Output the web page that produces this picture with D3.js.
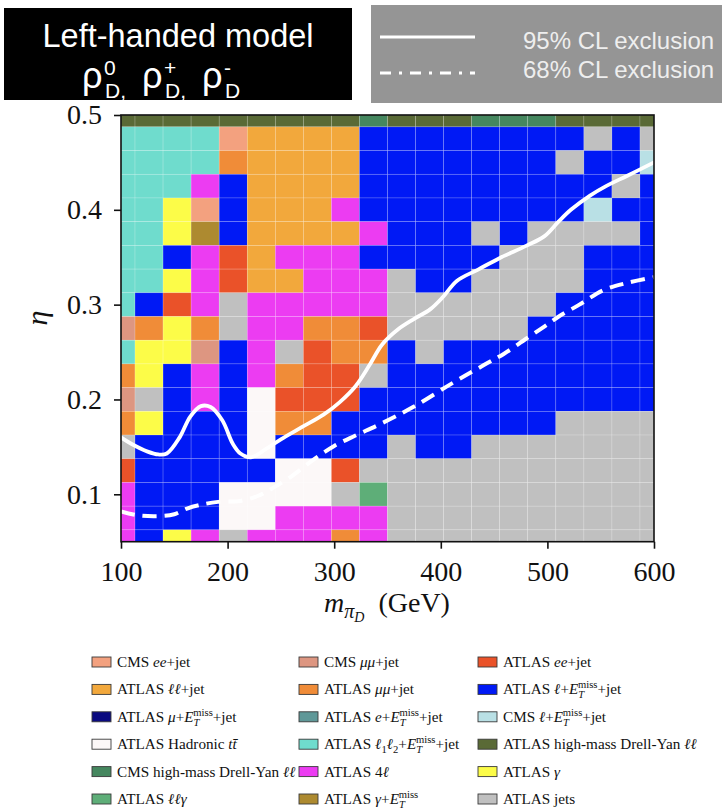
<!DOCTYPE html>
<html>
<head>
<meta charset="utf-8">
<script src="https://cdn.jsdelivr.net/npm/d3@7"></script>
<style>
  body { margin: 0; background: #fff; }
  svg { display: block; }
</style>
</head>
<body>
<svg id="chart" width="722" height="811"></svg>
<script>
// ---- data -------------------------------------------------------------
// Dark-pion mass grid points (GeV) and eta grid points
const massPoints = [100, 126.3, 152.6, 178.9, 205.3, 231.6, 257.9, 284.2, 310.5, 336.8,
                    363.2, 389.5, 415.8, 442.1, 468.4, 494.7, 521.1, 547.4, 573.7, 600];
const etaPoints = [0.5, 0.475, 0.45, 0.425, 0.4, 0.375, 0.35, 0.325, 0.3, 0.275,
                   0.25, 0.225, 0.2, 0.175, 0.15, 0.125, 0.1, 0.075, 0.05];

// Analysis codes (letter per grid point) and their legend labels.
// Markup: *x* italic, _{x} subscript, ^{x} superscript
const analysisCodes = ["a","b","c","d","e","f","g","h","i","j","k","l","m","n","o","p","q","r"];
const analysisLabels = [
  "CMS *ee*+jet",
  "CMS *μμ*+jet",
  "ATLAS *ee*+jet",
  "ATLAS *ℓℓ*+jet",
  "ATLAS *μμ*+jet",
  "ATLAS *ℓ*+*E*_{T}^{miss}+jet",
  "ATLAS *μ*+*E*_{T}^{miss}+jet",
  "ATLAS *e*+*E*_{T}^{miss}+jet",
  "CMS *ℓ*+*E*_{T}^{miss}+jet",
  "ATLAS Hadronic *tt̄*",
  "ATLAS *ℓ*_{1}*ℓ*_{2}+*E*_{T}^{miss}+jet",
  "ATLAS high-mass Drell-Yan *ℓℓ*",
  "CMS high-mass Drell-Yan *ℓℓ*",
  "ATLAS 4*ℓ*",
  "ATLAS *γ*",
  "ATLAS *ℓℓγ*",
  "ATLAS *γ*+*E*_{T}^{miss}",
  "ATLAS jets"
];

// Most sensitive analysis at each grid point; rows from eta = 0.5 down to 0.05,
// columns from m = 100 to 600 GeV
const bestAnalysis = [
  "lllllllllmlllmmmllll",
  "kkkkaddddffffffffrfr",
  "kkkkeddddfffffffrffi",
  "kkknfddddfffffffffrf",
  "kkoafdddnffffffffiff",
  "kkoqfddddnfffrfrrrrf",
  "kkfncdnnnfffffrrrfff",
  "kkoncddnnnrffrrrrfff",
  "kfcnrnnnnnrrrrrrffff",
  "beoernneecrrrrrfffff",
  "koobfnrceefrffffffff",
  "eofnfneccrffffffffff",
  "brfnfjcccfffffffffff",
  "eofffjeeffffffffrrrr",
  "rffffjffffrffrrrrrrr",
  "cfffffjjcrrrrrrrrrrr",
  "nfffjjjjrprrrrrrrrrr",
  "nfffjjnnnnrrrrrrrrrr",
  "nfonrnnnenrrrrrrrrrr"
];

// Exclusion contours (m in GeV, eta)
const cl95Mass = [100, 110, 125, 135, 143, 155, 165, 175, 184, 195, 205, 212, 222, 235, 250,
                  270, 290, 305, 320, 333, 345, 360, 375, 390, 402, 415, 435, 455, 480, 497,
                  510, 522, 540, 555, 575, 600];
const cl95Eta = [0.160, 0.153, 0.145, 0.142, 0.143, 0.160, 0.182, 0.193, 0.192, 0.178, 0.153,
                 0.143, 0.139, 0.147, 0.158, 0.171, 0.184, 0.197, 0.214, 0.236, 0.258, 0.274,
                 0.285, 0.295, 0.308, 0.325, 0.337, 0.349, 0.362, 0.372, 0.387, 0.400, 0.415,
                 0.425, 0.436, 0.450];
const cl68Mass = [100, 115, 135, 150, 162, 175, 191, 212, 230, 243, 260, 280, 300, 320, 343,
                  374, 412, 440, 459, 480, 496, 510, 530, 552, 575, 600];
const cl68Eta = [0.082, 0.078, 0.077, 0.079, 0.085, 0.089, 0.092, 0.093, 0.099, 0.107, 0.119,
                 0.136, 0.151, 0.162, 0.174, 0.192, 0.218, 0.236, 0.248, 0.264, 0.276, 0.287,
                 0.300, 0.315, 0.323, 0.329];

const xTicks = [100, 200, 300, 400, 500, 600];
const yTicks = [0.1, 0.2, 0.3, 0.4, 0.5];

// ---- styling ------------------------------------------------------------
const analysisColors = {
  a: "#f3a17f", b: "#dd9681", c: "#ea5229", d: "#f2a83c", e: "#f08c38", f: "#0019f5",
  g: "#0a0a80", h: "#5f9898", i: "#b9e0e5", j: "#fcf8f8", k: "#6fdccd", l: "#5a6a36",
  m: "#45875f", n: "#ec3cf2", o: "#fcfc48", p: "#5eae78", q: "#ad8a30", r: "#c0c0c0"
};
const serif = "'Liberation Serif', 'Times New Roman', serif";
const sans = "'Liberation Sans', Arial, Helvetica, sans-serif";

const svg = d3.select("#chart");

// ---- header boxes ---------------------------------------------------------
const head = svg.append("g");
head.append("rect").attr("x", 4).attr("y", 8).attr("width", 348).attr("height", 92).attr("fill", "#000");
head.append("text").attr("x", 178).attr("y", 47).attr("text-anchor", "middle")
  .attr("font-family", sans).attr("font-size", 32.5).attr("fill", "#fff")
  .text("Left-handed model");

const rhoLine = head.append("text").attr("font-family", sans).attr("fill", "#fff");
[["0", "D,"], ["+", "D,"], ["-", "D"]].forEach(([sup, sub], i) => {
  const x0 = 82 + i * 60;
  rhoLine.append("tspan").attr("x", x0).attr("y", 88).attr("font-size", 36).text("ρ");
  rhoLine.append("tspan").attr("x", x0 + 22).attr("y", 75).attr("font-size", 21).text(sup);
  rhoLine.append("tspan").attr("x", x0 + 23).attr("y", 98).attr("font-size", 21).text(sub);
});

head.append("rect").attr("x", 371).attr("y", 5).attr("width", 351).attr("height", 98).attr("fill", "#959595");
head.append("line").attr("x1", 380).attr("x2", 475).attr("y1", 37).attr("y2", 37)
  .attr("stroke", "#fff").attr("stroke-width", 3);
head.append("line").attr("x1", 380).attr("x2", 475).attr("y1", 73).attr("y2", 73)
  .attr("stroke", "#fff").attr("stroke-width", 3).attr("stroke-dasharray", "11,8,3,8");
head.append("text").attr("x", 523).attr("y", 49).attr("font-family", sans).attr("font-size", 24)
  .attr("fill", "#eeeeee").text("95% CL exclusion");
head.append("text").attr("x", 523).attr("y", 78).attr("font-family", sans).attr("font-size", 24)
  .attr("fill", "#eeeeee").text("68% CL exclusion");

// ---- plot ----------------------------------------------------------------------
const x = d3.scaleLinear().domain([100, 600]).range([121, 654]);
const y = d3.scaleLinear().domain([0.05, 0.5]).range([541.7, 115]);

// cell edges are midpoints between neighbouring grid points, clipped to the domain
function cellEdges(vals, domain) {
  const lo = d3.min(domain), hi = d3.max(domain);
  return vals.map((v, i) => {
    const a = i > 0 ? (vals[i - 1] + v) / 2 : null;
    const b = i < vals.length - 1 ? (v + vals[i + 1]) / 2 : null;
    const nbs = [a, b].filter(d => d !== null);
    let e0 = Math.min(v, ...nbs), e1 = Math.max(v, ...nbs);
    if (a === null || b === null) {
      const half = Math.abs(nbs[0] - v);
      e0 = Math.min(v - half, e0); e1 = Math.max(v + half, e1);
    }
    return [Math.max(lo, e0), Math.min(hi, e1)];
  });
}
const mEdges = cellEdges(massPoints, x.domain());
const eEdges = cellEdges(etaPoints, y.domain());

const cells = [];
bestAnalysis.forEach((row, r) => {
  row.split("").forEach((code, c) => {
    cells.push({ m0: mEdges[c][0], m1: mEdges[c][1], e0: eEdges[r][0], e1: eEdges[r][1], code });
  });
});

const plot = svg.append("g");
plot.append("clipPath").attr("id", "plotClip").append("rect")
  .attr("x", x(100)).attr("y", y(0.5)).attr("width", x(600) - x(100)).attr("height", y(0.05) - y(0.5));

plot.append("g").selectAll("rect").data(cells).join("rect")
  .attr("x", d => x(d.m0))
  .attr("y", d => y(d.e1))
  .attr("width", d => x(d.m1) - x(d.m0))
  .attr("height", d => y(d.e0) - y(d.e1))
  .attr("fill", d => analysisColors[d.code])
  .attr("stroke", "rgba(255,255,255,0.28)")
  .attr("stroke-width", 0.6);

const line = d3.line().x(d => x(d[0])).y(d => y(d[1])).curve(d3.curveCatmullRom.alpha(0.5));
const curves = plot.append("g").attr("clip-path", "url(#plotClip)");
curves.append("path").datum(d3.zip(cl95Mass, cl95Eta)).attr("d", line)
  .attr("fill", "none").attr("stroke", "#fff").attr("stroke-width", 3.8)
  .attr("stroke-linecap", "round").attr("stroke-linejoin", "round");
curves.append("path").datum(d3.zip(cl68Mass, cl68Eta)).attr("d", line)
  .attr("fill", "none").attr("stroke", "#fff").attr("stroke-width", 4)
  .attr("stroke-dasharray", "14,8");

// frame
plot.append("rect").attr("x", x(100)).attr("y", y(0.5)).attr("width", x(600) - x(100))
  .attr("height", y(0.05) - y(0.5)).attr("fill", "none").attr("stroke", "#111").attr("stroke-width", 1.6);

// axes
const xAxis = svg.append("g").attr("transform", `translate(0,${y(0.05)})`)
  .call(d3.axisBottom(x).tickValues(xTicks).tickSize(7).tickPadding(12).tickFormat(d3.format("d")));
const yAxis = svg.append("g").attr("transform", `translate(${x(100)},0)`)
  .call(d3.axisLeft(y).tickValues(yTicks).tickSize(7).tickPadding(12).tickFormat(d3.format(".1f")));
[xAxis, yAxis].forEach(g => {
  g.select(".domain").remove();
  g.selectAll(".tick line").attr("stroke", "#111").attr("stroke-width", 1.6);
  g.selectAll(".tick text").attr("font-family", serif).attr("font-size", 28).attr("fill", "#111");
});

// axis titles
const xTitle = svg.append("text").attr("x", 387).attr("y", 612).attr("text-anchor", "middle")
  .attr("font-family", serif).attr("font-size", 28).attr("fill", "#111");
xTitle.append("tspan").attr("font-style", "italic").text("m");
xTitle.append("tspan").attr("font-style", "italic").attr("font-size", 20).attr("dy", 6).text("π");
xTitle.append("tspan").attr("font-style", "italic").attr("font-size", 14).attr("dy", 4).text("D");
xTitle.append("tspan").attr("dy", -10).text("\u2002(GeV)");

svg.append("text").attr("transform", "translate(47,318) rotate(-90)").attr("text-anchor", "middle")
  .attr("font-family", serif).attr("font-style", "italic").attr("font-size", 30).attr("fill", "#111")
  .text("η");

// ---- legend ----------------------------------------------------------------------
function richLabel(textSel, label, size) {
  const re = /\*([^*]+)\*|_\{([^}]+)\}|\^\{([^}]+)\}|([^*_^]+)/g;
  let m, shift = 0, lastSubWidth = 0;
  while ((m = re.exec(label)) !== null) {
    if (m[1] !== undefined || m[4] !== undefined) {
      const t = textSel.append("tspan").text(m[1] !== undefined ? m[1] : m[4]);
      if (m[1] !== undefined) t.attr("font-style", "italic");
      if (shift !== 0) { t.attr("dy", -shift); shift = 0; }
      lastSubWidth = 0;
    } else if (m[2] !== undefined) {
      const s = size * 0.7;
      const t = textSel.append("tspan").attr("font-size", s).attr("dy", size * 0.25 - shift).text(m[2]);
      if (/[A-Za-z]/.test(m[2])) t.attr("font-style", "italic");
      shift = size * 0.25;
      lastSubWidth = s * 0.58 * m[2].length;
    } else if (m[3] !== undefined) {
      const s = size * 0.7;
      textSel.append("tspan").attr("font-size", s).attr("dx", -lastSubWidth)
        .attr("dy", -size * 0.4 - shift).text(m[3]);
      shift = -size * 0.4;
      lastSubWidth = 0;
    }
  }
}

const legendCols = [92, 299, 478];
const legendRows = [662, 689.4, 716.8, 744.2, 771.6, 799];
const legend = svg.append("g");
analysisCodes.forEach((code, i) => {
  const cx = legendCols[i % 3], cy = legendRows[Math.floor(i / 3)];
  legend.append("rect").attr("x", cx).attr("y", cy - 5).attr("width", 19).attr("height", 10)
    .attr("fill", analysisColors[code]).attr("stroke", "#3a3a3a").attr("stroke-width", 0.9);
  const t = legend.append("text").attr("x", cx + 25).attr("y", cy + 5)
    .attr("font-family", serif).attr("font-size", 15.2).attr("fill", "#111");
  richLabel(t, analysisLabels[i], 15.2);
});
</script>
</body>
</html>
